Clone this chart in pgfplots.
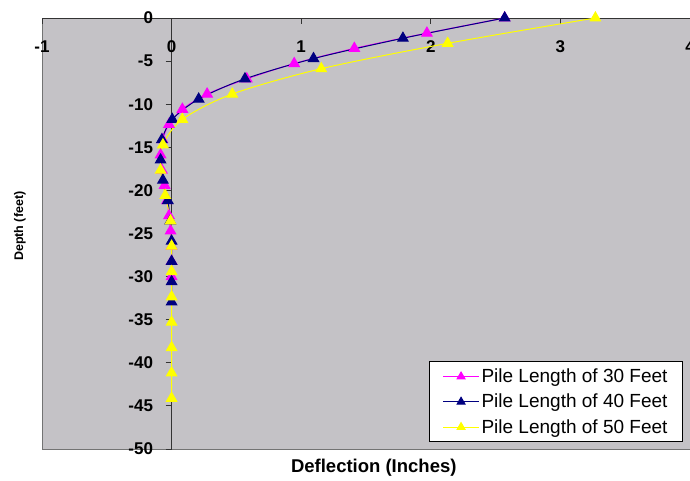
\documentclass[border=0pt]{standalone}
\usepackage{pgfplots}
\pgfplotsset{compat=1.18}
\usepackage{fontspec}
\setmainfont{Liberation Sans}
\definecolor{bggray}{RGB}{196,194,198}
\definecolor{navyc}{RGB}{0,0,128}
\definecolor{magc}{RGB}{255,0,255}
\definecolor{yelc}{RGB}{255,255,0}
\begin{document}
\begin{tikzpicture}
\begin{axis}[
  name=ax,
  scale only axis, width=648pt, height=431pt,
  xmin=-1, xmax=4, ymin=-50, ymax=0,
  axis lines=middle,
  hide obscured x ticks=false, hide obscured y ticks=false,
  axis line style={-, black!80, line width=0.9pt},
  axis background/.style={fill=bggray, draw=black!55, line width=0.9pt},
  xtick={-1,0,1,2,3,4}, ytick={-50,-45,...,0},
  /pgf/number format/assume math mode=true,
  tick style={black!80, line width=0.8pt},
  major tick length=6pt,
  x tick style={yshift=-3pt},
  y tick style={xshift=-3pt},
  tick label style={font=\fontsize{17}{17}\selectfont\bfseries},
  xticklabel style={yshift=-16pt},
  yticklabel style={xshift=-12pt},
  xlabel={\textbf{Deflection (Inches)}},
  ylabel={\textbf{Depth (feet)}},
  every axis x label/.style={at={(axis description cs:0.512,-0.044)}, anchor=center, font=\fontsize{18.5}{18.5}\selectfont},
  every axis y label/.style={at={(axis description cs:-0.034,0.517)}, rotate=90, anchor=center, font=\fontsize{12.5}{12.5}\selectfont},
  legend style={at={(axis description cs:0.989,0.016)}, anchor=south east, draw=black, fill=white, line width=0.8pt,
    font=\fontsize{19}{19}\selectfont, row sep=6pt, inner xsep=13pt, inner ysep=5pt},
  legend image code/.code={\draw[mark repeat=2,mark phase=2,mark size=4.5pt] plot coordinates {(0pt,0pt) (18pt,0pt) (36pt,0pt)};},
  legend cell align=left,
  clip=false,
]
\addplot[magc, line width=1pt, smooth, mark=triangle*, mark size=6pt, mark options={solid}] coordinates {
(2.57,0) (1.97,-1.76) (1.41,-3.53) (0.946,-5.29) (0.58,-7.06) (0.274,-8.82) (0.083,-10.59)
(-0.02,-12.35) (-0.07,-14.12) (-0.085,-15.88) (-0.075,-17.65) (-0.054,-19.41) (-0.035,-21.18)
(-0.02,-22.94) (-0.008,-24.71) (0,-26.47) (0,-28.24) (0,-30)
};
\addlegendentry{Pile Length of 30 Feet}
\addplot[navyc, line width=1pt, smooth, mark=triangle*, mark size=6pt, mark options={solid}] coordinates {
(2.57,0) (1.785,-2.35) (1.095,-4.71) (0.566,-7.06) (0.209,-9.41) (0.005,-11.76) (-0.075,-14.12)
(-0.085,-16.47) (-0.067,-18.82) (-0.029,-21.18) (-0.01,-23.53) (0,-25.88) (0,-28.24) (0,-30.59) (0,-32.94)
};
\addlegendentry{Pile Length of 40 Feet}
\addplot[yelc, line width=1pt, smooth, mark=triangle*, mark size=6pt, mark options={solid}] coordinates {
(3.27,0) (2.13,-2.94) (1.155,-5.88) (0.468,-8.82) (0.083,-11.76) (-0.067,-14.71) (-0.085,-17.65)
(-0.049,-20.59) (-0.008,-23.53) (0,-26.47) (0,-29.41) (0,-32.35) (0,-35.29) (0,-38.24) (0,-41.18) (0,-44.12)
};
\addlegendentry{Pile Length of 50 Feet}
\end{axis}
\pgfresetboundingbox
\path[use as bounding box] ([shift={(-42pt,-32pt)}]ax.south west) rectangle ([shift={(0pt,18pt)}]ax.north east);
\end{tikzpicture}
\end{document}
